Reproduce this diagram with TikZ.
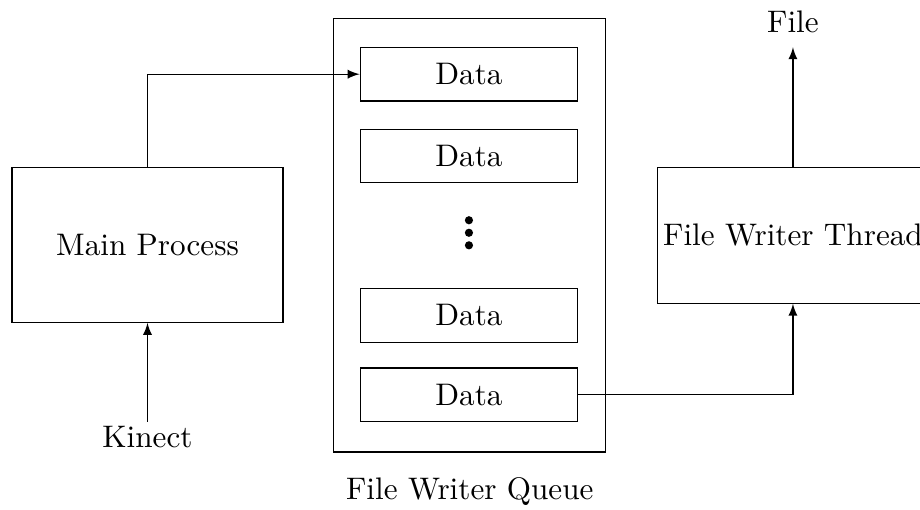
\documentclass[tikz,border=0pt]{standalone}
\usetikzlibrary{arrows.meta, positioning, calc}

\begin{document}
\begin{tikzpicture}[
  font=\fontsize{10.4}{12.5}\selectfont,
  proc/.style={draw, minimum width=3.18cm, minimum height=#1, inner xsep=1.5pt, align=center},
  item/.style={draw, minimum width=2.55cm, minimum height=0.63cm},
  flow/.style={-latex},
]

\useasboundingbox (0,0) rectangle (10.79,-5.97);

% producer side
\node[proc=1.82cm] (main) at (1.73, -2.87) {Main Process};
\node[inner sep=1.5pt] (kinect) at (1.73, -5.13) {Kinect};

% queue with its entries
\node[draw, minimum width=3.19cm, minimum height=5.08cm] (queue) at (5.51, -2.76) {};
\node (qlabel) at (5.51, -5.77) {File Writer Queue};

\node[item] (data1) at (5.50, -0.87) {Data};
\node[item] (data2) at (5.50, -1.83) {Data};
\node[item] (data3) at (5.50, -3.70) {Data};
\node[item] (data4) at (5.50, -4.63) {Data};

\foreach \k in {-1,0,1}
  \fill (5.50, -2.73+0.147*\k) circle (0.048);

% consumer side
\node[proc=1.59cm] (thread) at (9.30, -2.76) {File Writer Thread};
\node[inner sep=4.5pt] (file) at (9.30, -0.26) {File};

\draw[flow] (kinect) -- (main);
\draw[flow] (main.north) |- (data1.west);
\draw[flow] (data4.east) -| (thread.south);
\draw[flow] (thread.north) -- (file);

\end{tikzpicture}
\end{document}
